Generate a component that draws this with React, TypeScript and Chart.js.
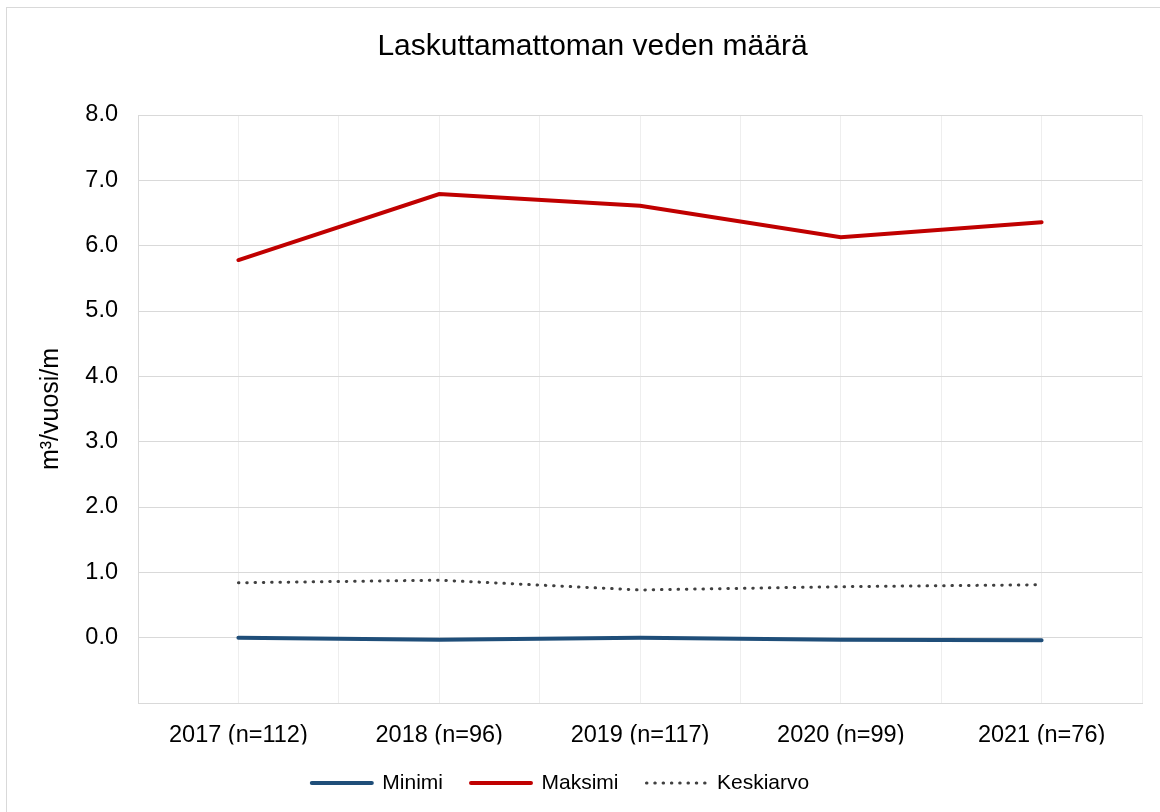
import React, { useEffect, useRef } from "react";
import { Chart, registerables } from "chart.js";

Chart.register(...registerables);

const categories = ["2017 (n=112)", "2018 (n=96)", "2019 (n=117)", "2020 (n=99)", "2021 (n=76)"];
const minimi = [0.0, -0.03, 0.0, -0.03, -0.04];
const maksimi = [5.78, 6.79, 6.61, 6.13, 6.36];
const keskiarvo = [0.84, 0.88, 0.73, 0.78, 0.81];
const seriesNames = ["Minimi", "Maksimi", "Keskiarvo"];
const chartTitle = "Laskuttamattoman veden määrä";
const yAxisTitle = "m³/vuosi/m";
const yMin = -1;
const yMax = 8;

const FONT = "'Liberation Sans', Arial, sans-serif";
const LEGEND_SHIFT = -32;

const shiftLegend = {
  id: "shiftLegend",
  afterLayout(chart: any) {
    const l = chart.legend;
    if (l) {
      l.left += LEGEND_SHIFT;
      l.right += LEGEND_SHIFT;
    }
  },
};

export default function App() {
  const ref = useRef<HTMLCanvasElement | null>(null);

  useEffect(() => {
    if (!ref.current) return;
    Chart.defaults.font.family = FONT;
    const chart = new Chart(ref.current, {
      type: "line",
      data: {
        labels: categories,
        datasets: [
          {
            label: seriesNames[0],
            data: minimi,
            borderColor: "#1F4E79",
            backgroundColor: "#1F4E79",
            borderWidth: 4,
            pointRadius: 0,
            tension: 0,
            borderCapStyle: "round",
            xAxisID: "x",
          },
          {
            label: seriesNames[1],
            data: maksimi,
            borderColor: "#C00000",
            backgroundColor: "#C00000",
            borderWidth: 4,
            pointRadius: 0,
            tension: 0,
            borderCapStyle: "round",
            xAxisID: "x",
          },
          {
            label: seriesNames[2],
            data: keskiarvo,
            borderColor: "#404040",
            backgroundColor: "#404040",
            borderWidth: 3,
            borderDash: [0.5, 7.8],
            borderCapStyle: "round",
            pointRadius: 0,
            tension: 0,
            xAxisID: "x",
          },
        ],
      },
      options: {
        responsive: false,
        animation: false,
        layout: { padding: { left: 43, right: 18, top: 0, bottom: 8.5 } },
        scales: {
          x: {
            type: "category",
            offset: true,
            grid: { offset: false, color: "#EEEEEE", lineWidth: 1, drawTicks: false },
            border: { display: true, color: "#D9D9D9", width: 1 },
            ticks: { color: "#000", font: { size: 23.5, family: FONT }, padding: 18, maxRotation: 0, autoSkip: false },
            afterFit: (scale: any) => {
              scale.height = 41.5;
            },
          },
          x2: {
            type: "category",
            labels: categories,
            position: "bottom",
            offset: true,
            grid: { offset: true, color: "#EEEEEE", lineWidth: 1, drawTicks: false },
            border: { display: false },
            ticks: { display: false },
            afterFit: (scale: any) => {
              scale.height = 0;
            },
          },
          y: {
            min: yMin,
            max: yMax,
            grid: { color: "#D9D9D9", lineWidth: 1, drawTicks: false },
            border: { display: true, color: "#D9D9D9", width: 1 },
            ticks: {
              stepSize: 1,
              color: "#000",
              padding: 20,
              font: { size: 23.5, family: FONT },
              callback: (v: any) => (Number(v) === yMin ? "" : Number(v).toFixed(1)),
            },
            title: {
              display: true,
              text: yAxisTitle,
              color: "#000",
              font: { size: 25, family: FONT },
              padding: { top: -6.7, bottom: 0 },
            },
            afterFit: (scale: any) => {
              scale.width = 95;
            },
          },
        },
        plugins: {
          title: {
            display: true,
            text: chartTitle,
            color: "#000",
            font: { size: 30, weight: "normal", family: FONT },
            padding: { top: 29, bottom: 50 },
          },
          legend: {
            position: "bottom",
            labels: {
              usePointStyle: true,
              pointStyle: "line",
              pointStyleWidth: 60,
              padding: 28,
              color: "#000",
              font: { size: 21, family: FONT },
              generateLabels: (c: any) => {
                const items = Chart.defaults.plugins.legend.labels.generateLabels(c);
                return items.map((it: any) => {
                  const ds: any = c.data.datasets[it.datasetIndex];
                  return {
                    ...it,
                    pointStyle: "line",
                    strokeStyle: ds.borderColor,
                    lineWidth: ds.borderWidth,
                    lineDash: ds.borderDash || [],
                    lineCap: ds.borderCapStyle || "butt",
                  };
                });
              },
            },
          },
          tooltip: { enabled: false },
        },
      },
      plugins: [shiftLegend],
    });
    return () => chart.destroy();
  }, []);

  return (
    <div
      style={{
        position: "fixed",
        left: 0,
        top: 0,
        width: 1160,
        height: 812,
        overflow: "hidden",
        background: "#fff",
      }}
    >
      <div
        style={{
          position: "absolute",
          left: 6,
          top: 7,
          width: 1200,
          height: 900,
          border: "1px solid #D9D9D9",
        }}
      />
      <canvas ref={ref} width={1160} height={812} style={{ position: "absolute", left: 0, top: 0 }} />
    </div>
  );
}
